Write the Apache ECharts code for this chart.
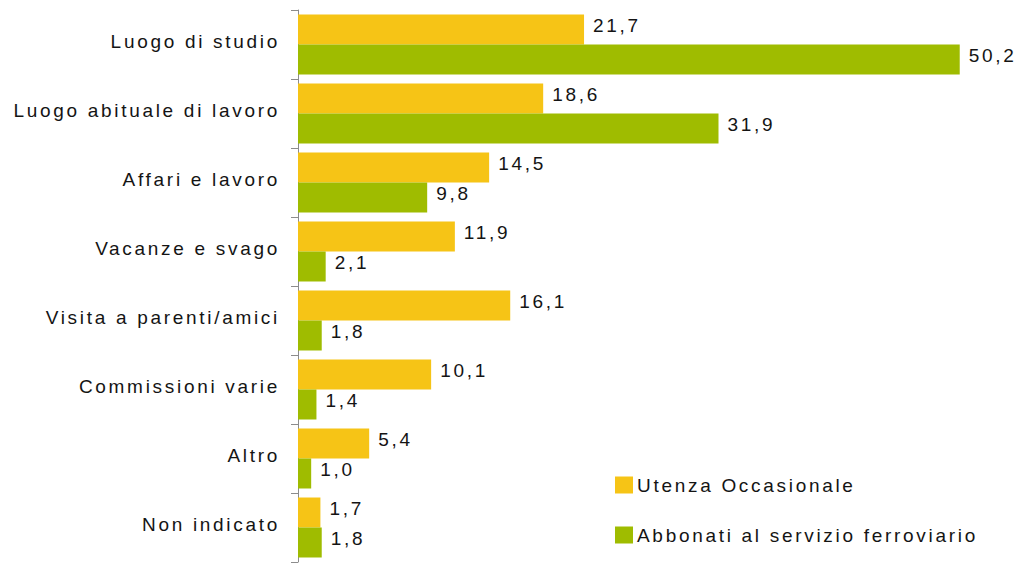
<!DOCTYPE html>
<html>
<head>
<meta charset="utf-8">
<script src="https://cdn.jsdelivr.net/npm/echarts@6/dist/echarts.min.js"></script>
<style>
  html, body { margin: 0; padding: 0; background: #ffffff; }
  #chart { width: 1023px; height: 568px; }
  /* wide tracking on every label */
  #chart svg text { letter-spacing: 2.7px; }
</style>
</head>
<body>
<div id="chart"></div>
<script>
// Motivo dello spostamento (%)
const categories = [
  'Luogo di studio',
  'Luogo abituale di lavoro',
  'Affari e lavoro',
  'Vacanze e svago',
  'Visita a parenti/amici',
  'Commissioni varie',
  'Altro',
  'Non indicato'
];
const seriesNames = ['Utenza Occasionale', 'Abbonati al servizio ferroviario'];
const occasionale = [21.7, 18.6, 14.5, 11.9, 16.1, 10.1, 5.4, 1.7];
const abbonati = [50.2, 31.9, 9.8, 2.1, 1.8, 1.4, 1.0, 1.8];

const FONT = '"Liberation Sans", Arial, sans-serif';
const TEXT = '#141414';
const SIZE = 19;

const fmt = p => p.value.toFixed(1).replace('.', ',');

const valueLabel = {
  show: true, position: 'right', distance: 9, offset: [0, -4], formatter: fmt,
  fontFamily: FONT, fontSize: SIZE, color: TEXT
};

const chart = echarts.init(document.getElementById('chart'), null, { renderer: 'svg' });
chart.setOption({
  animation: false,
  backgroundColor: '#ffffff',
  grid: { left: 298, right: 0, top: 10, bottom: 6 },
  legend: {
    orient: 'vertical',
    left: 610,
    top: 470,
    itemWidth: 18,
    itemHeight: 17,
    itemGap: 30,
    icon: 'rect',
    textStyle: { fontFamily: FONT, fontSize: SIZE, lineHeight: 20, color: TEXT, padding: [0, 0, 0, -1] },
    data: seriesNames
  },
  xAxis: {
    type: 'value',
    min: 0,
    max: 55,
    show: false
  },
  yAxis: {
    type: 'category',
    inverse: true,
    data: categories,
    axisLine: { show: true, lineStyle: { color: '#8c8c8c', width: 1 } },
    axisTick: { show: true, length: 7, lineStyle: { color: '#8c8c8c' } },
    axisLabel: {
      margin: 18,
      // category names sit slightly above the band centre
      formatter: v => '{c|' + v + '}',
      rich: {
        c: {
          fontFamily: FONT, fontSize: SIZE, color: TEXT,
          lineHeight: 20, padding: [0, 0, 7, 0]
        }
      }
    }
  },
  series: [
    {
      name: seriesNames[0],
      type: 'bar',
      data: occasionale,
      barWidth: 30,
      barGap: '0%',
      itemStyle: { color: '#F6C416' },
      label: valueLabel
    },
    {
      name: seriesNames[1],
      type: 'bar',
      data: abbonati,
      barWidth: 30,
      barGap: '0%',
      itemStyle: { color: '#9FBC00' },
      label: valueLabel
    }
  ]
});
</script>
</body>
</html>
